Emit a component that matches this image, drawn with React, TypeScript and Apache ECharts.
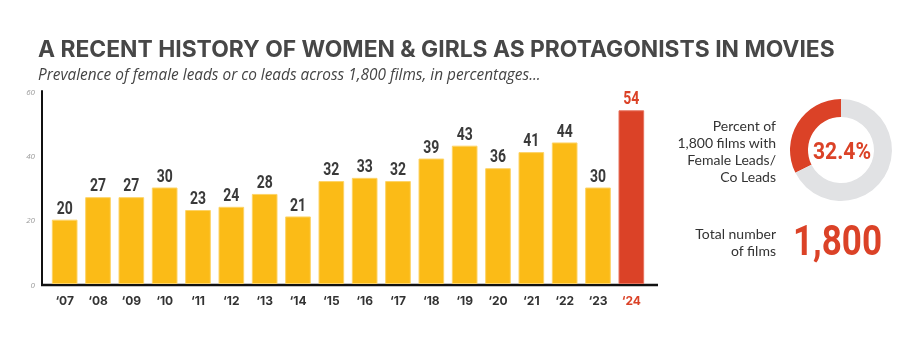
import React, { useEffect, useRef } from "react";
import * as echarts from "echarts";

const years = ["‘07", "‘08", "‘09", "‘10", "‘11", "‘12", "‘13", "‘14", "‘15", "‘16", "‘17", "‘18", "‘19", "‘20", "‘21", "‘22", "‘23", "‘24"];
const leadShares = [20, 27, 27, 30, 23, 24, 28, 21, 32, 33, 32, 39, 43, 36, 41, 44, 30, 54];
const donutValues = [32.4, 67.6];
const donutLabel = "32.4%";
const totalFilms = "1,800";
const titleText = "A RECENT HISTORY OF WOMEN & GIRLS AS PROTAGONISTS IN MOVIES";
const subtitleText = "Prevalence of female leads or co leads across 1,800 films, in percentages...";
const percentNote = ["Percent of", "1,800 films with", "Female Leads/", "Co Leads"];
const totalNote = ["Total number", "of films"];

const YELLOW = "#FBBB17";
const RED = "#DB4227";
const GREY = "#E1E2E4";
const NUM_FONT = "Roboto";

function measure(text: string, font: string) {
  const c = document.createElement("canvas").getContext("2d");
  if (!c) return 100;
  c.font = font;
  return c.measureText(text).width;
}

export default function App() {
  const ref = useRef<HTMLDivElement>(null);
  useEffect(() => {
    document.body.style.margin = "0";
    if (!ref.current) return;
    const chart = echarts.init(ref.current, null, { renderer: "svg" });
    const titleSize = (100 * 797) / measure(titleText, "bold 100px Inter");
    const subSize = (100 * 503) / measure(subtitleText, "italic 100px 'Open Sans'");
    const bigSize = 42;
    const bigScale = 89 / measure(totalFilms, `bold ${bigSize}px ${NUM_FONT}`);
    const pctSize = 23;
    const pctScale = 58 / measure(donutLabel, `bold ${pctSize}px ${NUM_FONT}`);
    const last = leadShares.length - 1;
    const noteText = (t: string, y: number) => ({
      type: "text",
      x: 776,
      y,
      style: {
        text: t,
        fontSize: 14,
        fontFamily: "Lato",
        fill: "#333333",
        textAlign: "right",
        textVerticalAlign: "middle",
      },
    });
    chart.setOption({
      animation: false,
      grid: { left: 48, right: 273, top: 91, bottom: 69 },
      xAxis: {
        type: "category",
        data: years,
        axisLine: { show: false },
        axisTick: { show: false },
        axisLabel: {
          margin: 10,
          fontSize: 12,
          fontWeight: "bold",
          fontFamily: "Inter, sans-serif",
          color: (_v: any, i: number) => (i === last ? RED : "#333333"),
        },
      },
      yAxis: {
        type: "value",
        min: 0,
        max: 60,
        interval: 20,
        offset: 6,
        splitLine: { show: false },
        axisTick: { show: false },
        axisLine: { show: true, lineStyle: { color: "#111111", width: 2 } },
        axisLabel: {
          margin: 7,
          fontSize: 8,
          fontStyle: "italic",
          color: "#9a9a9a",
          fontFamily: "'Open Sans', sans-serif",
        },
      },
      series: [
        {
          type: "bar",
          barCategoryGap: "23%",
          data: leadShares.map((v, i) => ({
            value: v,
            itemStyle: {
              color: i === last ? RED : YELLOW,
              borderColor: i === last ? "#E8735E" : "#FDD468",
              borderWidth: 1,
            },
          })),
          silent: true,
        },
        {
          type: "custom",
          silent: true,
          data: leadShares.map((v, i) => [i, v]),
          encode: { x: 0, y: 1 },
          renderItem: (params: any, api: any) => {
            const i = api.value(0);
            const v = api.value(1);
            const p = api.coord([i, v]);
            return {
              type: "text",
              x: p[0],
              y: p[1] - 3,
              scaleX: 0.8,
              style: {
                text: String(v),
                textAlign: "center",
                textVerticalAlign: "bottom",
                fontSize: 17.5,
                fontWeight: "bold",
                fontFamily: NUM_FONT,
                fill: params.dataIndex === last ? RED : "#3A3A3A",
              },
            };
          },
        },
        {
          type: "pie",
          center: [841, 150],
          radius: [33, 51],
          startAngle: 90,
          clockwise: false,
          silent: true,
          label: { show: false },
          labelLine: { show: false },
          data: [
            { value: donutValues[0], itemStyle: { color: RED } },
            { value: donutValues[1], itemStyle: { color: GREY } },
          ],
        },
      ],
      graphic: [
        {
          type: "text",
          x: 38,
          y: 48.5,
          style: {
            text: titleText,
            fontSize: titleSize,
            fontWeight: "bold",
            fontFamily: "Inter",
            fill: "#474747",
            textVerticalAlign: "middle",
          },
        },
        {
          type: "text",
          x: 38,
          y: 74,
          style: {
            text: subtitleText,
            fontSize: subSize,
            fontStyle: "italic",
            fontFamily: "'Open Sans'",
            fill: "#444444",
            textVerticalAlign: "middle",
          },
        },
        {
          type: "line",
          shape: { x1: 41, y1: 285, x2: 658, y2: 285 },
          style: { stroke: "#111111", lineWidth: 2.5 },
        },
        ...percentNote.map((t, k) => noteText(t, 125 + k * 17)),
        ...totalNote.map((t, k) => noteText(t, 233 + k * 17)),
        {
          type: "text",
          x: 842,
          y: 151,
          scaleX: pctScale,
          style: {
            text: donutLabel,
            fontSize: pctSize,
            fontWeight: "bold",
            fontFamily: NUM_FONT,
            fill: RED,
            textAlign: "center",
            textVerticalAlign: "middle",
          },
        },
        {
          type: "text",
          x: 793,
          y: 240,
          scaleX: bigScale,
          style: {
            text: totalFilms,
            fontSize: bigSize,
            fontWeight: "bold",
            fontFamily: NUM_FONT,
            fill: RED,
            textAlign: "left",
            textVerticalAlign: "middle",
          },
        },
      ],
    });
    return () => chart.dispose();
  }, []);
  return <div ref={ref} style={{ position: "fixed", left: 0, top: 0, width: 921, height: 353 }} />;
}
